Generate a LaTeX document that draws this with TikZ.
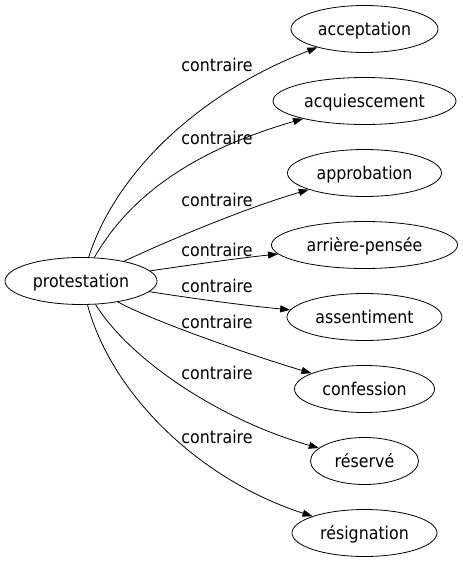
\documentclass[tikz,border=0pt]{standalone}
\usepackage{fontspec}
\setmainfont{DejaVu Sans}[FakeStretch=0.9]
\usetikzlibrary{arrows.meta,shapes.geometric}
\begin{document}
\begin{tikzpicture}[x=1pt,y=-1pt,
  term/.style={draw,ellipse,inner sep=0pt,minimum height=47pt,text height=12pt,text depth=0pt,font=\fontsize{17.6}{20}\selectfont,line width=0.8pt},
  lab/.style={inner sep=0pt,font=\fontsize{17.6}{20}\selectfont},
  edge/.style={draw,line width=0.8pt,-{Triangle[length=10pt,width=7pt]}}]
\useasboundingbox (0,0) rectangle (463,563);
\node[term,minimum width=152pt] (p) at (81,281) {protestation};
\node[term,minimum width=147pt] (t1) at (364.5,29) {acceptation};
\node[term,minimum width=183pt] (t2) at (364.5,101) {acquiescement};
\node[term,minimum width=154pt] (t3) at (364.5,173) {approbation};
\node[term,minimum width=186pt] (t4) at (364.5,245) {arrière-pensée};
\node[term,minimum width=155pt] (t5) at (364.5,317) {assentiment};
\node[term,minimum width=140pt] (t6) at (364.5,389) {confession};
\node[term,minimum width=108pt] (t7) at (364.5,461) {réservé};
\node[term,minimum width=145pt] (t8) at (364.5,533) {résignation};
\node[lab] (l1) at (217,65) {contraire};
\node[lab] (l2) at (217,138) {contraire};
\node[lab] (l3) at (217,200) {contraire};
\node[lab] (l4) at (217,250) {contraire};
\node[lab] (l5) at (217,286) {contraire};
\node[lab] (l6) at (217,322) {contraire};
\node[lab] (l7) at (217,373) {contraire};
\node[lab] (l8) at (217,437) {contraire};
\draw[edge] (p) .. controls (115,175) and (195,95) .. (t1);
\draw[edge] (p) .. controls (130,195) and (195,150) .. (t2);
\draw[edge] (p) .. controls (170,240) and (240,210) .. (t3);
\draw[edge] (p) .. controls (190,265) and (240,258) .. (t4);
\draw[edge] (p) .. controls (190,298) and (240,305) .. (t5);
\draw[edge] (p) .. controls (150,320) and (250,355) .. (t6);
\draw[edge] (p) .. controls (130,360) and (220,420) .. (t7);
\draw[edge] (p) .. controls (112,395) and (200,480) .. (t8);
\end{tikzpicture}
\end{document}
